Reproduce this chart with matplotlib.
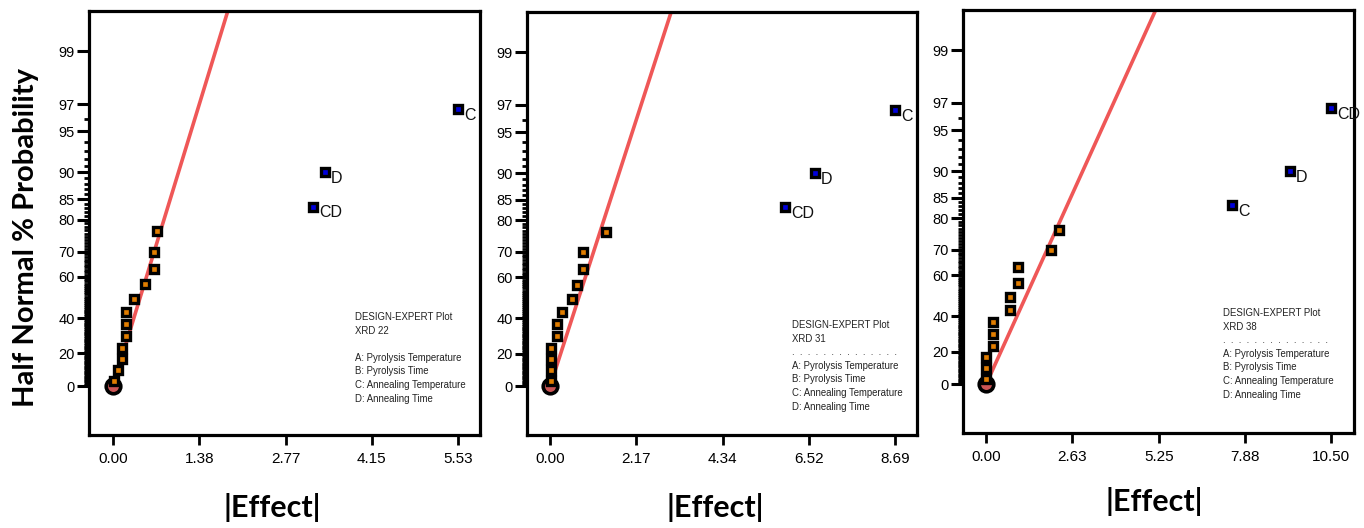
import numpy as np
import matplotlib
matplotlib.use('Agg')
import matplotlib.pyplot as plt
from statistics import NormalDist

ND = NormalDist()

# half normal % probability of the ranked effects (15 effects of the 2^4 design)
probs = [3.3, 10, 16.7, 23.3, 30, 36.7, 43.3, 50, 56.7, 63.3, 70, 76.7, 83.3, 90, 96.7]

# |effect|, in rank order
effects_22 = [0.02, 0.08, 0.14, 0.14, 0.21, 0.21, 0.21, 0.33, 0.52, 0.65, 0.65, 0.71, 3.20, 3.39, 5.53]
effects_31 = [0.03, 0.03, 0.03, 0.03, 0.18, 0.18, 0.30, 0.55, 0.68, 0.82, 0.82, 1.42, 5.92, 6.67, 8.69]
effects_38 = [0.0, 0.0, 0.0, 0.22, 0.22, 0.22, 0.73, 0.73, 0.98, 0.98, 1.98, 2.22, 7.48, 9.23, 10.50]

# names of the significant (blue) effects, last three ranks
names_22 = ['CD', 'D', 'C']
names_31 = ['CD', 'D', 'C']
names_38 = ['C', 'D', 'CD']

# red reference line: passes the origin and leaves the top of the frame here
line_end_22 = 1.84
line_end_31 = 3.05
line_end_38 = 5.16

xticklabels_22 = ['0.00', '1.38', '2.77', '4.15', '5.53']
xticklabels_31 = ['0.00', '2.17', '4.34', '6.52', '8.69']
xticklabels_38 = ['0.00', '2.63', '5.25', '7.88', '10.50']

ytick_vals = [0, 20, 40, 60, 70, 80, 85, 90, 95, 97, 99]
ytick_minor = list(range(1, 97))

legend_names = ['A: Pyrolysis Temperature', 'B: Pyrolysis Time',
                'C: Annealing Temperature', 'D: Annealing Time']


def fwd(p):
    p = np.asarray(p, dtype=float)
    q = np.clip(np.abs(p) / 100.0, 0, 0.999999)
    z = np.array([ND.inv_cdf(0.5 + v / 2) for v in q.ravel()]).reshape(q.shape)
    return np.sign(p) * z


def inv(z):
    z = np.asarray(z, dtype=float)
    c = np.array([ND.cdf(v) for v in np.abs(z).ravel()]).reshape(z.shape)
    return np.sign(z) * (2 * c - 1) * 100.0


W, H = 1364, 528
SANS = ['Liberation Sans', 'DejaVu Sans']
BOLD = ['Lato', 'DejaVu Sans']


def px(x, y):
    return x / W, 1 - y / H


fig = plt.figure(figsize=(W / 100, H / 100), dpi=100)

panels = [
    # frame (left, top, right, bottom) in pixels, xlim
    dict(box=(89, 11, 480, 435), xlim=(-0.384, 5.88), eff=effects_22, names=names_22,
         end=line_end_22, xtl=xticklabels_22, leg=(355, 312), plot='XRD 22', dots=False,
         xlab=(272, 508)),
    dict(box=(527, 12, 917, 435), xlim=(-0.58, 9.24), eff=effects_31, names=names_31,
         end=line_end_31, xtl=xticklabels_31, leg=(792, 320), plot='XRD 31', dots=True,
         xlab=(715, 508)),
    dict(box=(963, 10, 1354, 433), xlim=(-0.70, 11.19), eff=effects_38, names=names_38,
         end=line_end_38, xtl=xticklabels_38, leg=(1223, 308), plot='XRD 38', dots=True,
         xlab=(1154, 502)),
]

for pn in panels:
    l, t, r, b = pn['box']
    ax = fig.add_axes([l / W, 1 - b / H, (r - l) / W, (b - t) / H])
    ax.set_yscale('function', functions=(fwd, inv))
    ax.set_xlim(*pn['xlim'])
    ax.set_ylim(-29.2, 99.61)

    eff = pn['eff']
    xmax = eff[-1]
    ax.set_xticks(np.linspace(0, xmax, 5))
    ax.set_xticklabels(pn['xtl'], family=SANS, fontsize=11)
    ax.set_yticks(ytick_vals)
    ax.set_yticklabels([str(v) for v in ytick_vals], family=SANS, fontsize=10.5)
    ax.set_yticks(ytick_minor, minor=True)
    ax.tick_params(axis='y', which='major', direction='out', length=8.5, width=2.2, pad=1.5)
    ax.tick_params(axis='y', which='minor', direction='out', length=3.8, width=2.0)
    ax.tick_params(axis='x', which='major', direction='out', length=7.5, width=2.0, pad=4.5)
    ax.tick_params(axis='x', which='minor', bottom=False)
    for s in ax.spines.values():
        s.set_linewidth(2.3)

    ax.plot([0, pn['end']], [0, 99.61], color='#ef5757', lw=2.6, zorder=2,
            solid_capstyle='butt')

    ax.plot([0], [0], 'o', ms=10.5, mfc='#cc5555', mec='black', mew=2.6, zorder=3)

    ax.plot(eff[:-3], probs[:-3], 's', ms=6.2, mfc='#e07d00', mec='black', mew=2.4,
            zorder=4, clip_on=False)
    ax.plot(eff[-3:], probs[-3:], 's', ms=6.2, mfc='#0000dd', mec='black', mew=2.4,
            zorder=4, clip_on=False)
    for xv, yv, nm in zip(eff[-3:], probs[-3:], pn['names']):
        ax.annotate(nm, (xv, yv), xytext=(4.5, -4.5), textcoords='offset points',
                    ha='left', va='center', fontsize=11.5, family=SANS,
                    color='#111111', zorder=5)

    lx, ly = pn['leg']
    mid = '.  .  .  .  .  .  .  .  .  .  .  .  .  .' if pn['dots'] else ''
    txt = '\n'.join(['DESIGN-EXPERT Plot', pn['plot'], mid] + legend_names)
    fig.text(*px(lx, ly), txt, family=SANS, fontsize=6.9, linespacing=1.45,
             ha='left', va='top', color='#222222')

    fig.text(*px(*pn['xlab']), '|Effect|', family=BOLD,
             fontweight='bold', fontsize=22, ha='center', va='center')

fig.text(*px(26, 238), 'Half Normal % Probability', family=BOLD,
         fontweight='bold', fontsize=21, rotation=90, ha='center', va='center')

fig.savefig('out.png', dpi=100)
